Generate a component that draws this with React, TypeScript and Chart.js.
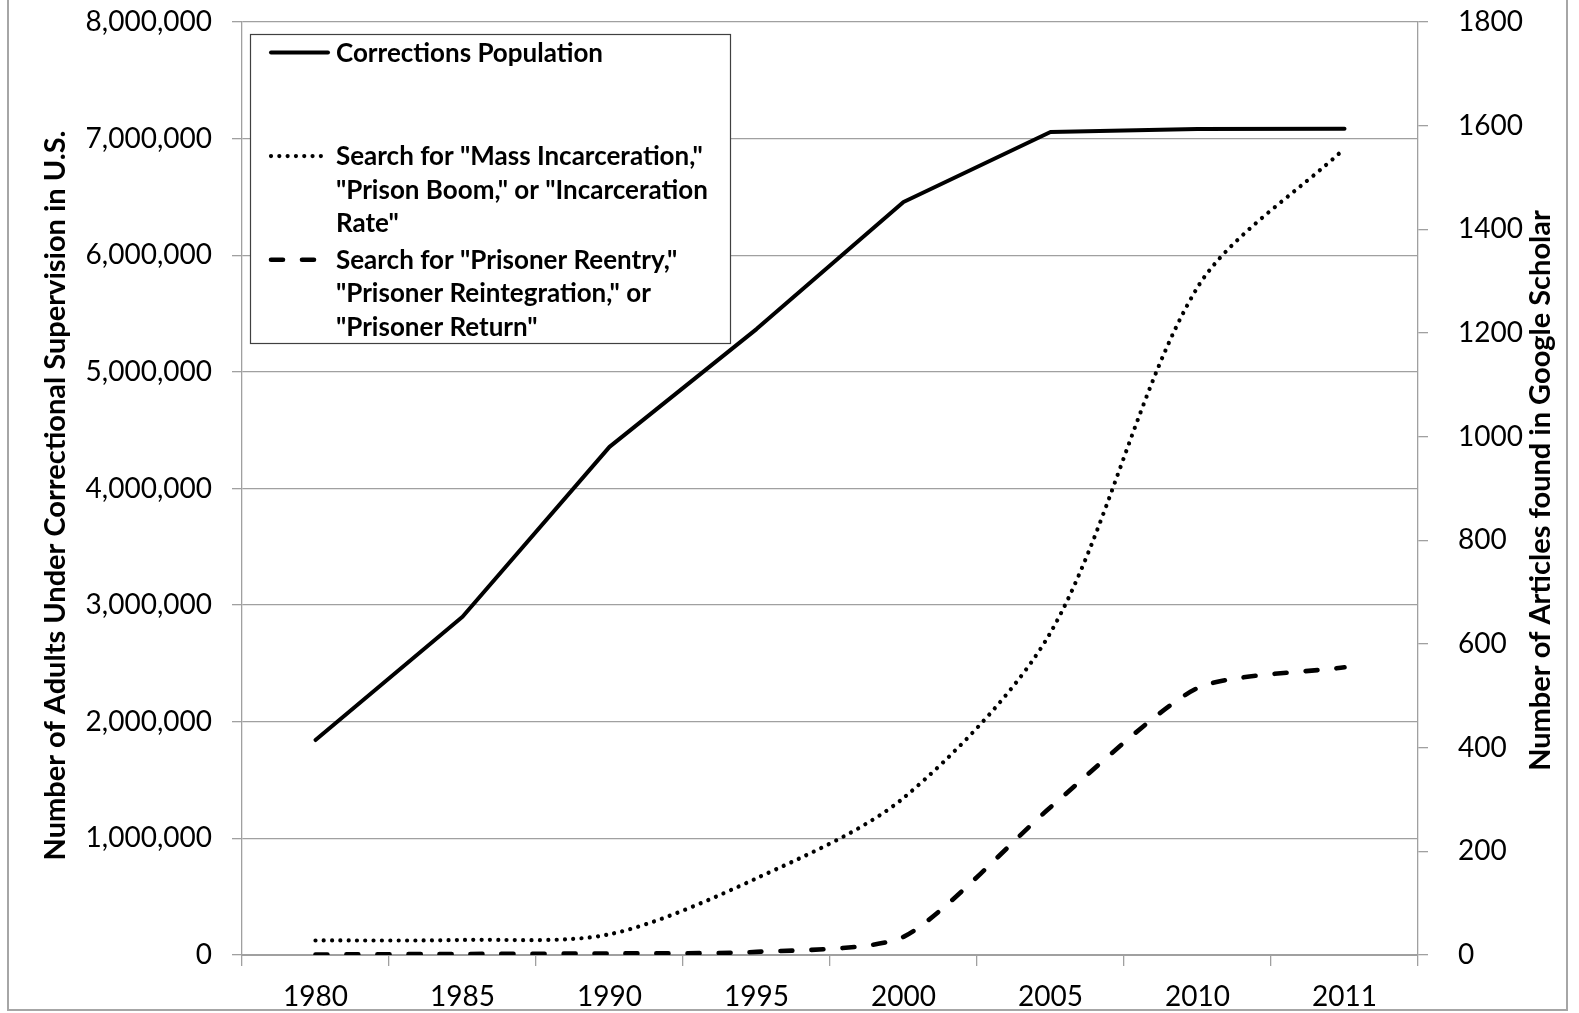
import React, { useEffect, useRef } from 'react';
import { Chart, registerables } from 'chart.js';

Chart.register(...registerables);

// ---------- data ----------
const years = ['1980', '1985', '1990', '1995', '2000', '2005', '2010', '2011'];
const correctionsPopulation = [1843000, 2900000, 4357000, 5367000, 6457000, 7057000, 7083000, 7085000];
const massIncarcerationArticles = [28, 29, 40, 148, 303, 622, 1288, 1556];
const reentryArticles = [1, 2, 3, 6, 35, 285, 515, 555];

const seriesLabels = [
  ['Corrections Population'],
  ['Search for "Mass Incarceration,"', '"Prison Boom," or "Incarceration', 'Rate"'],
  ['Search for "Prisoner Reentry,"', '"Prisoner Reintegration," or', '"Prisoner Return"'],
];
const leftAxisTitle = 'Number of Adults Under Correctional Supervision in U.S.';
const rightAxisTitle = 'Number of Articles found in Google Scholar';
const leftAxisMax = 8000000;
const leftAxisStep = 1000000;
const rightAxisMax = 1800;
const rightAxisStep = 200;

// ---------- styles ----------
const W = 1579;
const H = 1013;
const FONT = 'Lato, "Open Sans", sans-serif';
const GRID = '#a0a0a0';
const PLOT_LEFT = 242;
const PLOT_RIGHT = 1418;
const PLOT_TOP = 22;
const PLOT_BOTTOM = 955;

const DOT_DASH = [0.01, 8.3];
const LONG_DASH = [12, 19];

const decorPlugin = {
  id: 'decor',
  beforeDraw(chart: any) {
    const ctx = chart.ctx;
    ctx.save();
    ctx.fillStyle = '#ffffff';
    ctx.fillRect(0, 0, W, H);
    ctx.strokeStyle = '#a6a6a6';
    ctx.lineWidth = 2;
    ctx.strokeRect(8, -10, 1559, 1020);
    ctx.restore();
  },
  afterDraw(chart: any) {
    const ctx = chart.ctx;
    const area = chart.chartArea;
    const cy = (area.top + area.bottom) / 2;
    ctx.save();
    ctx.fillStyle = '#000';
    ctx.font = 'bold 29px ' + FONT;
    ctx.textAlign = 'center';
    ctx.textBaseline = 'middle';
    ctx.save();
    ctx.translate(56, cy + 7);
    ctx.rotate(-Math.PI / 2);
    ctx.fillText(leftAxisTitle, 0, 0);
    ctx.restore();
    ctx.save();
    ctx.translate(1541, cy + 2);
    ctx.rotate(-Math.PI / 2);
    ctx.fillText(rightAxisTitle, 0, 0);
    ctx.restore();
    ctx.restore();
  },
  afterDatasetsDraw(chart: any) {
    const ctx = chart.ctx;
    const box = { x: 250, y: 34, w: 480, h: 309 };
    ctx.save();
    ctx.fillStyle = '#ffffff';
    ctx.fillRect(box.x, box.y, box.w, box.h);
    ctx.strokeStyle = '#404040';
    ctx.lineWidth = 1.2;
    ctx.strokeRect(box.x + 0.5, box.y + 0.5, box.w, box.h);
    const lineH = 33.3;
    const slot = 103.6;
    ctx.font = 'bold 26px ' + FONT;
    ctx.textAlign = 'left';
    ctx.textBaseline = 'middle';
    chart.data.datasets.forEach((ds: any, i: number) => {
      const y0 = box.y + 18.5 + i * slot;
      ctx.save();
      ctx.strokeStyle = ds.borderColor;
      ctx.lineWidth = ds.borderWidth;
      ctx.lineCap = ds.borderCapStyle || 'butt';
      ctx.setLineDash(ds.borderDash || []);
      ctx.beginPath();
      ctx.moveTo(box.x + 21, y0);
      ctx.lineTo(box.x + 78, y0);
      ctx.stroke();
      ctx.restore();
      const lines: string[] = seriesLabels[i];
      lines.forEach((t, j) => {
        ctx.fillStyle = '#000';
        ctx.fillText(t, box.x + 86, y0 + j * lineH + 1);
      });
    });
    ctx.restore();
  },
};

const noVerticalPadding = (s: any) => {
  s.paddingTop = 0;
  s.paddingBottom = 0;
};

export default function App() {
  const ref = useRef<HTMLCanvasElement | null>(null);

  useEffect(() => {
    if (!ref.current) return;
    const tickFont = { family: FONT, size: 28 };
    const chart = new Chart(ref.current, {
      type: 'line',
      data: {
        labels: years,
        datasets: [
          {
            label: seriesLabels[0].join(' '),
            data: correctionsPopulation,
            yAxisID: 'y',
            borderColor: '#000',
            borderWidth: 4,
            borderCapStyle: 'round',
            borderJoinStyle: 'round',
            pointRadius: 0,
            tension: 0,
          },
          {
            label: seriesLabels[1].join(' '),
            data: massIncarcerationArticles,
            yAxisID: 'y1',
            borderColor: '#000',
            borderWidth: 4.2,
            borderDash: DOT_DASH,
            borderCapStyle: 'round',
            pointRadius: 0,
            tension: 0.3,
          },
          {
            label: seriesLabels[2].join(' '),
            data: reentryArticles,
            yAxisID: 'y1',
            borderColor: '#000',
            borderWidth: 4.6,
            borderDash: LONG_DASH,
            borderCapStyle: 'round',
            pointRadius: 0,
            tension: 0.22,
          },
        ] as any,
      },
      options: {
        animation: false,
        responsive: false,
        maintainAspectRatio: false,
        layout: { autoPadding: false, padding: { top: PLOT_TOP, left: 0, right: 0, bottom: 0 } },
        plugins: {
          legend: { display: false },
          tooltip: { enabled: false },
          title: { display: false },
        },
        scales: {
          x: {
            type: 'category',
            offset: true,
            grid: {
              offset: true,
              drawOnChartArea: false,
              drawTicks: true,
              tickLength: 11,
              color: GRID,
              lineWidth: 1.3,
            },
            border: { display: true, color: GRID, width: 2 },
            ticks: { font: tickFont, color: '#000', padding: 14, maxRotation: 0, autoSkip: false },
            afterFit: (s: any) => {
              s.height = H - PLOT_BOTTOM;
              s.paddingLeft = 0;
              s.paddingRight = 0;
            },
          },
          y: {
            position: 'left',
            min: 0,
            max: leftAxisMax,
            ticks: {
              stepSize: leftAxisStep,
              font: tickFont,
              color: '#000',
              padding: 20,
              callback: (v: any) => Number(v).toLocaleString('en-US'),
            },
            grid: { color: GRID, lineWidth: 1.3, tickLength: 10 },
            border: { display: true, color: GRID, width: 1.3 },
            afterFit: (s: any) => {
              s.width = PLOT_LEFT;
              noVerticalPadding(s);
            },
          },
          y1: {
            position: 'right',
            min: 0,
            max: rightAxisMax,
            ticks: {
              stepSize: rightAxisStep,
              font: tickFont,
              color: '#000',
              padding: 30,
              callback: (v: any) => String(v),
            },
            grid: { drawOnChartArea: false, color: GRID, lineWidth: 1.3, tickLength: 10 },
            border: { display: true, color: GRID, width: 1.3 },
            afterFit: (s: any) => {
              s.width = W - PLOT_RIGHT;
              noVerticalPadding(s);
            },
          },
        },
      } as any,
      plugins: [decorPlugin],
    });
    return () => chart.destroy();
  }, []);

  return (
    <div style={{ position: 'absolute', left: 0, top: 0, width: W, height: H, background: '#fff' }}>
      <canvas ref={ref} width={W} height={H} style={{ width: W, height: H, display: 'block' }} />
    </div>
  );
}
